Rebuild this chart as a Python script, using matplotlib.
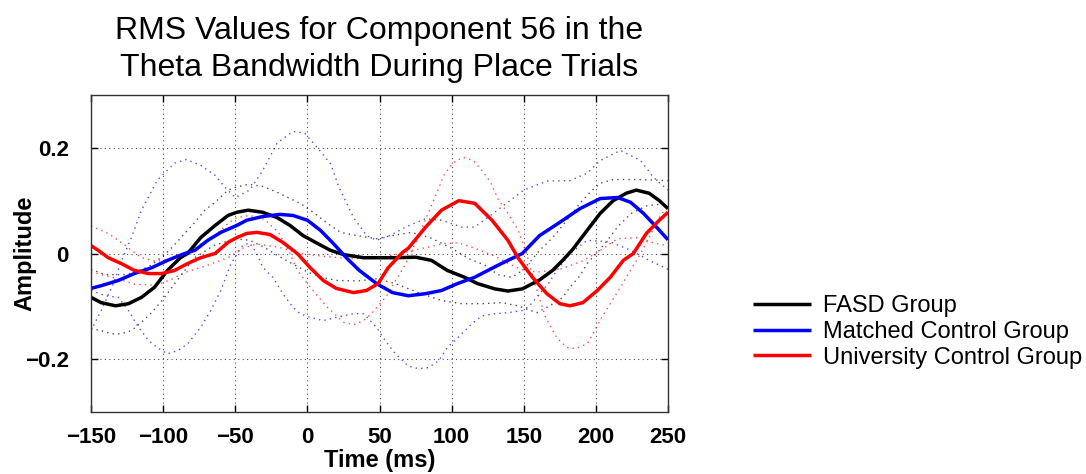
import matplotlib
matplotlib.use("Agg")
import matplotlib.pyplot as plt

plt.rcParams['font.family'] = ['Liberation Sans', 'DejaVu Sans']

# ---- data ----
fasd_t = [-150, -143, -133, -124, -115, -106, -97, -88, -83, -74, -64, -55, -49, -41, -31, -21,
          -12, -3, 7, 16, 25, 39, 48, 61, 75, 86, 97, 109, 118, 130, 139, 149, 161, 170, 177,
          184, 194, 203, 212, 221, 228, 237, 244, 250]
fasd_v = [-0.083, -0.093, -0.099, -0.095, -0.083, -0.064, -0.032, -0.008, 0.0, 0.03, 0.053, 0.072,
          0.078, 0.082, 0.078, 0.068, 0.053, 0.034, 0.019, 0.006, -0.002, -0.008, -0.008, -0.008,
          -0.007, -0.013, -0.032, -0.045, -0.057, -0.067, -0.071, -0.067, -0.05, -0.032, -0.013,
          0.008, 0.044, 0.076, 0.1, 0.114, 0.12, 0.114, 0.1, 0.085]

matched_t = [-150, -143, -131, -120, -108, -97, -85, -78, -69, -60, -49, -42, -31, -19, -10, 0, 9,
             18, 27, 36, 48, 59, 70, 82, 93, 104, 116, 128, 139, 149, 161, 175, 189, 203, 215,
             224, 233, 242, 250]
matched_v = [-0.066, -0.061, -0.051, -0.038, -0.027, -0.013, 0.0, 0.006, 0.025, 0.04, 0.053, 0.063,
             0.07, 0.074, 0.072, 0.063, 0.044, 0.019, -0.008, -0.032, -0.057, -0.074, -0.08,
             -0.076, -0.07, -0.057, -0.045, -0.028, -0.013, 0.0, 0.034, 0.059, 0.085, 0.104,
             0.106, 0.097, 0.076, 0.05, 0.026]

univ_t = [-150, -145, -138, -129, -120, -110, -101, -92, -83, -74, -64, -55, -49, -42, -35, -26,
          -17, -7, 2, 11, 20, 32, 41, 49, 56, 66, 70, 82, 93, 105, 116, 128, 139, 146, 156, 166,
          175, 182, 191, 201, 210, 219, 226, 235, 244, 250]
univ_v = [0.015, 0.006, -0.008, -0.019, -0.032, -0.038, -0.038, -0.032, -0.019, -0.008, 0.0, 0.021,
          0.03, 0.038, 0.04, 0.036, 0.021, 0.0, -0.027, -0.051, -0.066, -0.074, -0.07, -0.057,
          -0.027, 0.002, 0.01, 0.05, 0.082, 0.1, 0.095, 0.063, 0.025, -0.008, -0.045, -0.076,
          -0.095, -0.099, -0.093, -0.07, -0.045, -0.013, 0.0, 0.038, 0.063, 0.078]

# dotted bounds
fasd_hi_t = [-150, -140, -125, -110, -100, -94, -85, -78, -71, -64, -55, -50, -41, -31, -21, -12,
             -5, 4, 14, 23, 34, 48, 61, 72, 85, 100, 112, 123, 132, 142, 150, 161, 170, 180, 189,
             196, 203, 212, 230, 250]
fasd_hi_v = [-0.03, -0.04, -0.04, -0.025, -0.005, 0.011, 0.038, 0.059, 0.082, 0.097, 0.12, 0.125,
             0.131, 0.127, 0.116, 0.104, 0.095, 0.078, 0.057, 0.04, 0.034, 0.028, 0.035, 0.04,
             0.03, 0.01, -0.01, -0.022, -0.04, -0.045, -0.03, 0.006, 0.03, 0.063, 0.095, 0.116,
             0.133, 0.14, 0.14, 0.138]
fasd_lo_t = [-150, -143, -136, -129, -122, -115, -108, -99, -92, -85, -78, -65, -50, -40, -30, -20,
             -10, 0, 10, 20, 35, 48, 61, 77, 93, 107, 121, 135, 146, 159, 168, 177, 182, 189,
             194, 202, 208, 215, 224, 235, 250]
fasd_lo_v = [-0.142, -0.146, -0.152, -0.152, -0.146, -0.13, -0.112, -0.083, -0.057, -0.032,
             -0.008, 0.015, 0.028, 0.025, 0.012, -0.005, -0.02, -0.035, -0.045, -0.051, -0.052,
             -0.048, -0.057, -0.074, -0.089, -0.095, -0.095, -0.093, -0.099, -0.112, -0.099,
             -0.083, -0.064, -0.042, -0.019, 0.005, 0.025, 0.05, 0.075, 0.09, 0.095]

matched_hi_t = [-150, -143, -135, -128, -122, -115, -104, -92, -84, -74, -64, -57, -50, -40, -31,
                -21, -10, -2, 7, 16, 22, 32, 41, 48, 58, 68, 82, 93, 107, 116, 125, 139, 150,
                166, 182, 194, 203, 217, 231, 240, 250]
matched_hi_v = [-0.146, -0.108, -0.06, -0.008, 0.03, 0.082, 0.139, 0.171, 0.178, 0.167, 0.148,
                0.125, 0.106, 0.12, 0.157, 0.209, 0.231, 0.228, 0.2, 0.17, 0.125, 0.068, 0.034,
                0.025, 0.035, 0.05, 0.066, 0.063, 0.05, 0.05, 0.068, 0.097, 0.12, 0.137, 0.138,
                0.152, 0.176, 0.195, 0.176, 0.144, 0.12]
matched_lo_t = [-150, -140, -131, -124, -117, -110, -103, -97, -90, -83, -74, -67, -60, -53, -45,
                -40, -35, -31, -24, -17, -10, -5, 2, 11, 20, 32, 39, 48, 54, 61, 70, 77, 84, 91,
                97, 104, 114, 121, 130, 139, 149, 154, 161, 167, 173, 182, 194, 210, 225, 237, 250]
matched_lo_v = [-0.07, -0.08, -0.083, -0.108, -0.14, -0.165, -0.18, -0.19, -0.184, -0.171, -0.14,
                -0.108, -0.07, -0.019, 0.015, 0.02, 0.0, -0.026, -0.045, -0.076, -0.102, -0.114,
                -0.121, -0.127, -0.121, -0.114, -0.114, -0.14, -0.165, -0.19, -0.213, -0.218,
                -0.216, -0.203, -0.178, -0.16, -0.133, -0.118, -0.114, -0.112, -0.108, -0.099,
                -0.076, -0.057, -0.032, 0.0, 0.025, 0.022, 0.005, -0.013, -0.03]

univ_a_t = [-150, -138, -129, -122, -115, -105, -95, -85, -72, -64, -55, -49, -40, -30, -20, -12,
            -7, 0, 7, 14, 25, 32, 39, 45, 55, 68, 75, 82, 89, 95, 101, 108, 115, 121, 127, 132,
            139, 146, 152, 158, 165, 173, 180, 186, 194, 198, 204, 210, 217, 224, 230, 237, 243,
            250]
univ_a_v = [0.052, 0.038, 0.021, 0.006, -0.008, -0.015, -0.01, 0.0, 0.021, 0.034, 0.057, 0.068,
            0.072, 0.065, 0.04, 0.0, -0.032, -0.057, -0.08, -0.102, -0.13, -0.135, -0.127,
            -0.112, -0.08, -0.02, 0.02, 0.065, 0.11, 0.15, 0.172, 0.182, 0.176, 0.157, 0.135,
            0.104, 0.076, 0.045, 0.0, -0.06, -0.12, -0.16, -0.178, -0.18, -0.171, -0.152,
            -0.121, -0.095, -0.064, -0.032, -0.005, 0.03, 0.065, 0.09]
univ_b_t = [-150, -135, -120, -105, -95, -85, -70, -55, -45, -35, -20, -5, 10, 30, 50, 65, 80,
            95, 105, 115, 130, 140, 150, 160, 175, 190, 200, 215, 230, 240, 250]
univ_b_v = [-0.035, -0.045, -0.058, -0.06, -0.05, -0.036, -0.023, -0.008, 0.01, 0.018, 0.012,
            0.0, -0.005, -0.01, -0.008, 0.0, 0.01, 0.019, 0.02, 0.011, -0.005, -0.02, -0.032,
            -0.035, -0.03, -0.015, 0.0, 0.028, 0.03, 0.02, 0.015]

labels = ['FASD Group', 'Matched Control Group', 'University Control Group']
colors = ['black', 'blue', 'red']
x_ticks = [-150, -100, -50, 0, 50, 100, 150, 200, 250]
x_ticklabels = ['\u2212150', '\u2212100', '\u221250', '0', '50', '100', '150', '200', '250']
y_ticks = [-0.2, 0, 0.2]
y_ticklabels = ['\u22120.2', '0', '0.2']

fig = plt.figure(figsize=(10.86, 4.74), dpi=100)
ax = fig.add_axes([91 / 1086, 1 - 412 / 474, 577 / 1086, 317 / 474])

bounds = [(fasd_hi_t, fasd_hi_v, fasd_lo_t, fasd_lo_v),
          (matched_hi_t, matched_hi_v, matched_lo_t, matched_lo_v),
          (univ_a_t, univ_a_v, univ_b_t, univ_b_v)]
for (ht, hv, lt, lv), c in zip(bounds, colors):
    ax.plot(ht, hv, linestyle=(0, (1, 3)), color=c, lw=1.0, alpha=0.7)
    ax.plot(lt, lv, linestyle=(0, (1, 3)), color=c, lw=1.0, alpha=0.7)

lines = []
for (t, v), c, lab in zip([(fasd_t, fasd_v), (matched_t, matched_v), (univ_t, univ_v)], colors, labels):
    ln, = ax.plot(t, v, color=c, lw=2.5, label=lab, solid_capstyle='butt')
    lines.append(ln)

ax.set_xlim(-150, 250)
ax.set_ylim(-0.3, 0.3)
ax.set_xticks(x_ticks)
ax.set_xticklabels(x_ticklabels)
ax.set_yticks(y_ticks)
ax.set_yticklabels(y_ticklabels)
ax.grid(True, linestyle=(0, (1, 3)), color='black', lw=0.8, alpha=0.7)
ax.tick_params(direction='in', top=True, right=True, length=5, width=1, labelsize=16)
ax.tick_params(axis='x', pad=11)
ax.tick_params(axis='y', pad=16)
for lab in ax.get_xticklabels() + ax.get_yticklabels():
    lab.set_fontweight('bold')
for s in ax.spines.values():
    s.set_linewidth(1.0)
    s.set_color('#333333')

ax.set_xlabel('Time (ms)', fontsize=17, fontweight='bold')
ax.xaxis.set_label_coords(0.5, -0.118)
ax.set_ylabel('Amplitude', fontsize=17, fontweight='bold')
ax.yaxis.set_label_coords(-0.095, 0.5)
ax.set_title('RMS Values for Component 56 in the\nTheta Bandwidth During Place Trials',
             fontsize=23, pad=14, linespacing=1.29)

fig.legend(handles=lines, labels=labels, loc='upper left', bbox_to_anchor=(744 / 1086, 1 - 286 / 474),
           frameon=False, fontsize=17, handlelength=2.45, handletextpad=0.5, labelspacing=0.15,
           borderaxespad=0)

fig.savefig('out.png', dpi=100)
